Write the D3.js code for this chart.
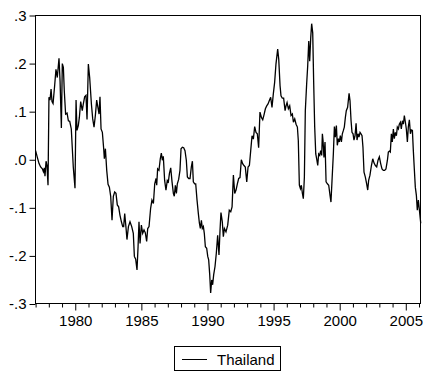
<!DOCTYPE html>
<html><head><meta charset="utf-8">
<script src="https://cdn.jsdelivr.net/npm/d3@7"></script>
<style>body{margin:0;background:#fff}svg{display:block}text{font-family:Arial,"Liberation Sans",sans-serif}</style>
</head><body><svg id="c" width="424" height="373"></svg>
<script>
const seriesName = "Thailand";
const yTicks = [-0.3, -0.2, -0.1, 0, 0.1, 0.2, 0.3];
const yTickLabels = ["-.3", "-.2", "-.1", ".0", ".1", ".2", ".3"];
const xTickYears = d3.range(1977, 2007);
const xLabelYears = [1980, 1985, 1990, 1995, 2000, 2005];
const xDomain = [1977.0, 2006.15];

const thailand = [
[1977.00,0.019],[1977.13,0.005],[1977.26,-0.008],[1977.38,-0.015],[1977.51,-0.019],[1977.59,-0.025],[1977.66,-0.017],[1977.71,-0.034],[1977.79,-0.003],[1977.86,-0.012],[1977.94,-0.053],
[1978.01,0.130],[1978.09,0.124],[1978.17,0.147],[1978.24,0.121],[1978.32,0.117],[1978.44,0.154],[1978.54,0.188],[1978.64,0.171],[1978.77,0.211],[1978.85,0.164],[1978.95,0.066],
[1979.02,0.200],[1979.10,0.192],[1979.17,0.143],[1979.27,0.095],[1979.38,0.097],[1979.48,0.081],[1979.58,0.080],[1979.70,0.064],[1979.85,-0.015],[1979.98,-0.059],
[1980.06,0.124],[1980.13,0.061],[1980.23,0.071],[1980.31,0.088],[1980.41,0.121],[1980.53,0.102],[1980.61,0.116],[1980.71,0.131],[1980.81,0.134],[1980.89,0.084],[1980.99,0.199],
[1981.09,0.171],[1981.22,0.116],[1981.32,0.085],[1981.42,0.068],[1981.52,0.092],[1981.62,0.124],[1981.72,0.108],[1981.80,0.095],[1981.87,0.131],[1981.95,0.064],
[1982.05,0.057],[1982.15,0.023],[1982.20,0.002],[1982.28,0.023],[1982.38,-0.022],[1982.48,-0.051],[1982.58,-0.057],[1982.68,-0.076],[1982.78,-0.126],[1982.88,-0.076],[1982.98,-0.067],
[1983.08,-0.070],[1983.18,-0.094],[1983.28,-0.098],[1983.38,-0.115],[1983.49,-0.129],[1983.59,-0.139],[1983.66,-0.139],[1983.74,-0.112],[1983.84,-0.142],[1983.91,-0.166],[1984.02,-0.139],
[1984.14,-0.129],[1984.27,-0.139],[1984.39,-0.153],[1984.47,-0.201],[1984.57,-0.207],[1984.67,-0.229],[1984.75,-0.181],[1984.82,-0.129],[1984.90,-0.174],
[1985.00,-0.136],[1985.10,-0.153],[1985.20,-0.146],[1985.30,-0.152],[1985.40,-0.170],[1985.48,-0.143],[1985.58,-0.139],[1985.70,-0.101],[1985.80,-0.084],[1985.91,-0.091],
[1986.01,-0.050],[1986.11,-0.039],[1986.16,-0.053],[1986.23,-0.019],[1986.33,-0.022],[1986.43,0.002],[1986.51,0.014],[1986.59,-0.001],[1986.66,0.007],[1986.76,-0.043],[1986.86,-0.063],[1986.96,-0.043],
[1987.04,-0.046],[1987.12,-0.029],[1987.22,-0.017],[1987.32,-0.046],[1987.42,-0.070],[1987.49,-0.076],[1987.57,-0.053],[1987.65,-0.070],[1987.72,-0.050],[1987.82,-0.041],[1987.92,-0.022],
[1988.00,0.023],[1988.10,0.026],[1988.20,0.025],[1988.30,0.019],[1988.40,-0.001],[1988.48,-0.036],[1988.58,-0.039],[1988.68,-0.039],[1988.78,-0.015],[1988.86,-0.003],[1988.93,-0.046],
[1989.03,-0.050],[1989.11,-0.050],[1989.21,-0.084],[1989.31,-0.112],[1989.39,-0.132],[1989.46,-0.143],[1989.54,-0.126],[1989.61,-0.143],[1989.69,-0.139],[1989.76,-0.153],[1989.84,-0.181],[1989.94,-0.184],
[1990.02,-0.201],[1990.09,-0.208],[1990.17,-0.239],[1990.24,-0.277],[1990.32,-0.250],[1990.39,-0.260],[1990.47,-0.239],[1990.57,-0.222],[1990.67,-0.194],[1990.77,-0.157],[1990.87,-0.198],[1990.95,-0.146],
[1991.02,-0.110],[1991.12,-0.129],[1991.20,-0.160],[1991.28,-0.143],[1991.40,-0.150],[1991.53,-0.136],[1991.65,-0.105],[1991.76,-0.108],[1991.86,-0.098],[1991.96,-0.032],
[1992.06,-0.070],[1992.16,-0.063],[1992.26,-0.050],[1992.36,-0.039],[1992.46,-0.037],[1992.56,0.000],[1992.66,-0.008],[1992.76,-0.012],[1992.86,-0.015],[1992.97,-0.046],
[1993.07,-0.015],[1993.17,-0.012],[1993.27,0.019],[1993.37,0.050],[1993.47,0.043],[1993.57,0.069],[1993.67,0.057],[1993.77,0.054],[1993.87,0.025],[1993.97,0.099],
[1994.08,0.088],[1994.18,0.083],[1994.28,0.094],[1994.38,0.106],[1994.48,0.112],[1994.58,0.116],[1994.68,0.123],[1994.78,0.130],[1994.88,0.109],[1994.98,0.137],
[1995.08,0.161],[1995.18,0.199],[1995.31,0.230],[1995.39,0.209],[1995.49,0.154],[1995.56,0.133],[1995.66,0.128],[1995.76,0.128],[1995.87,0.102],[1995.94,0.112],
[1996.02,0.119],[1996.12,0.106],[1996.22,0.112],[1996.32,0.092],[1996.42,0.095],[1996.50,0.078],[1996.60,0.085],[1996.70,0.074],[1996.80,0.068],[1996.87,0.040],[1996.95,-0.053],
[1997.03,-0.060],[1997.10,-0.053],[1997.18,-0.070],[1997.25,-0.081],[1997.33,-0.036],[1997.40,0.102],[1997.50,0.157],[1997.58,0.195],[1997.66,0.247],[1997.73,0.205],[1997.81,0.254],[1997.88,0.283],[1997.96,0.264],
[1998.03,0.164],[1998.11,0.068],[1998.19,0.012],[1998.26,0.002],[1998.34,-0.012],[1998.41,0.012],[1998.49,0.009],[1998.56,0.019],[1998.64,0.009],
[1998.69,0.054],[1998.74,0.040],[1998.81,0.005],[1998.89,0.037],[1998.97,-0.046],[1999.07,-0.050],[1999.17,-0.053],[1999.27,-0.074],[1999.34,-0.088],[1999.42,-0.043],[1999.52,0.012],
[1999.60,0.069],[1999.67,0.047],[1999.75,0.071],[1999.82,0.030],[1999.90,0.044],[1999.97,0.037],[2000.05,0.050],[2000.13,0.037],[2000.20,0.054],[2000.28,0.061],[2000.35,0.068],
[2000.43,0.088],[2000.50,0.102],[2000.60,0.109],[2000.71,0.138],[2000.78,0.123],[2000.86,0.081],[2000.93,0.057],[2001.01,0.054],[2001.08,0.041],[2001.16,0.050],[2001.24,0.076],
[2001.31,0.041],[2001.39,0.054],[2001.46,0.047],[2001.54,0.057],[2001.61,0.054],[2001.69,0.050],[2001.76,0.026],[2001.84,-0.026],[2001.94,-0.036],[2002.04,-0.050],[2002.12,-0.063],
[2002.19,-0.043],[2002.29,-0.032],[2002.40,-0.012],[2002.50,0.002],[2002.60,-0.007],[2002.70,-0.012],[2002.80,-0.015],[2002.90,-0.001],[2003.00,0.006],[2003.10,-0.008],[2003.20,-0.019],
[2003.30,-0.022],[2003.40,-0.022],[2003.50,-0.019],[2003.61,-0.001],[2003.68,0.016],[2003.76,0.018],[2003.83,0.016],[2003.91,0.054],[2003.98,0.037],[2004.06,0.064],[2004.13,0.044],
[2004.21,0.057],[2004.29,0.050],[2004.36,0.068],[2004.44,0.064],[2004.51,0.074],[2004.59,0.078],[2004.66,0.064],[2004.74,0.081],[2004.82,0.074],[2004.89,0.092],[2004.97,0.078],
[2005.04,0.064],[2005.12,0.037],[2005.19,0.068],[2005.27,0.083],[2005.35,0.054],[2005.42,0.062],[2005.50,0.061],[2005.57,0.019],[2005.65,-0.022],[2005.72,-0.057],[2005.80,-0.074],
[2005.87,-0.105],[2005.95,-0.084],[2006.03,-0.105],[2006.13,-0.132]
];

const svg = d3.select("#c");
svg.append("rect").attr("width", 424).attr("height", 373).attr("fill", "#fff");

const x = d3.scaleLinear().domain(xDomain).range([35.6, 421]);
const y = d3.scaleLinear().domain([-0.3, 0.3]).range([304, 15.5]);

// y axis
const ya = svg.append("g").attr("transform", "translate(35.5,0)")
  .call(d3.axisLeft(y).tickValues(yTicks).tickSize(6).tickPadding(3)
    .tickFormat((d, i) => yTickLabels[i]));
ya.select(".domain").remove();
ya.selectAll("line").attr("stroke", "#000");
ya.selectAll("text").attr("font-size", 15).attr("fill", "#000")
  .attr("font-family", "Arial, 'Liberation Sans', sans-serif");

// x axis
const xa = svg.append("g").attr("transform", "translate(0,303.5)")
  .call(d3.axisBottom(x).tickValues(xTickYears).tickSize(4).tickPadding(8)
    .tickFormat(d => xLabelYears.includes(d) ? String(d) : ""));
xa.select(".domain").remove();
xa.selectAll(".tick line").attr("stroke", "#000")
  .attr("y2", d => xLabelYears.includes(d) ? 7 : 4);
xa.selectAll("text").attr("font-size", 15).attr("fill", "#000")
  .attr("font-family", "Arial, 'Liberation Sans', sans-serif");

// frame
svg.append("rect").attr("x", 35.5).attr("y", 15.5).attr("width", 385).attr("height", 288)
  .attr("fill", "none").attr("stroke", "#000").attr("stroke-width", 1);

// series
svg.append("path").datum(thailand)
  .attr("fill", "none").attr("stroke", "#000").attr("stroke-width", 1.3)
  .attr("stroke-linejoin", "miter")
  .attr("d", d3.line().x(d => x(d[0])).y(d => y(d[1])));

// legend
const lg = svg.append("g");
lg.append("rect").attr("x", 174.5).attr("y", 346.5).attr("width", 106).attr("height", 24)
  .attr("fill", "#fff").attr("stroke", "#000");
lg.append("line").attr("x1", 182).attr("x2", 207).attr("y1", 359.5).attr("y2", 359.5)
  .attr("stroke", "#000").attr("stroke-width", 1);
lg.append("text").attr("x", 217).attr("y", 364.5).attr("font-size", 15).attr("fill", "#000")
  .text(seriesName);
</script></body></html>
